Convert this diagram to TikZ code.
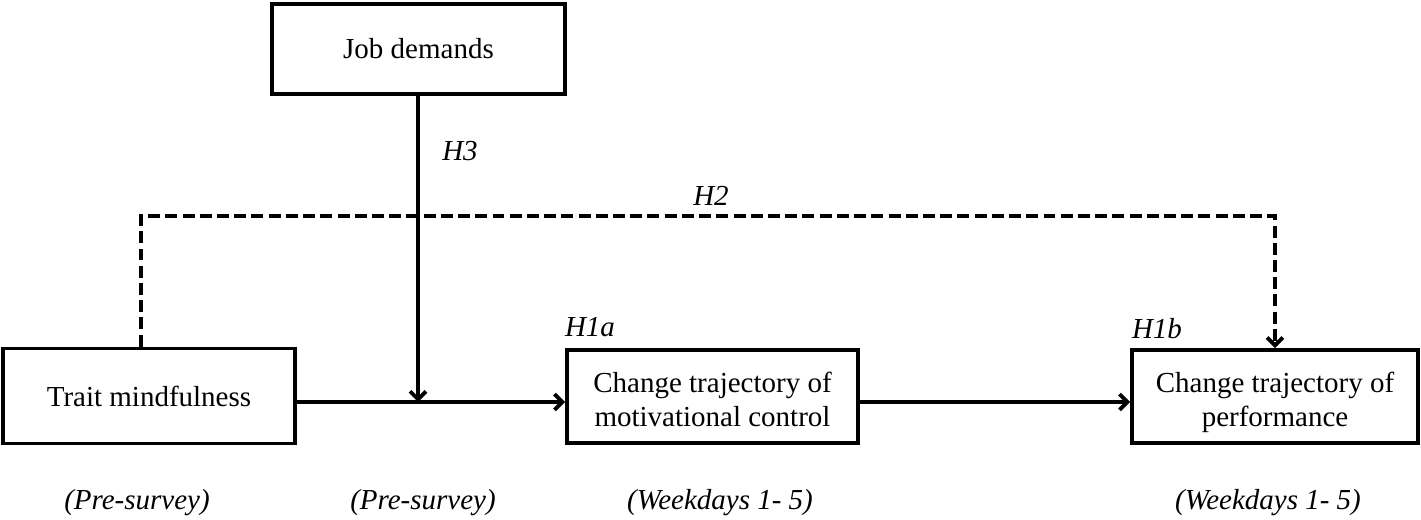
\documentclass[tikz,border=0pt]{standalone}
\usepackage{fontspec}
\setmainfont{Liberation Serif}
\usetikzlibrary{positioning, arrows.meta, calc}

\newcommand{\figsize}{\fontsize{16.5}{19.5}\selectfont}
\newcommand{\toprule}{\rule{0pt}{21pt}}

\tikzset{
    box/.style={draw, line width=2.2pt, align=center, inner sep=2pt},
    conn/.style={line width=2.2pt, -{Straight Barb[length=4.5pt, width=9pt, line width=2.2pt]}},
    dashconn/.style={conn, dash pattern=on 6.8pt off 3pt},
    hyp/.style={font=\figsize\itshape},
    phase/.style={font=\figsize\itshape}
}

\begin{document}
\begin{tikzpicture}[x=0.02cm, y=-0.02cm, font=\figsize]
\useasboundingbox (0,0) rectangle (1421,520);

% Kästen
\node[box, minimum width=5.86cm, minimum height=1.8cm] (jobdem) at (418.5,49) {Job demands};
\node[box, minimum width=5.84cm, minimum height=1.9cm] (trait) at (149,396) {Trait mindfulness};
\node[box, minimum width=5.82cm, minimum height=1.86cm] (motiv) at (712.5,396.5) {\toprule Change trajectory of\\\strut motivational control};
\node[box, minimum width=5.72cm, minimum height=1.86cm] (perf) at (1275,396.5) {\toprule Change trajectory of\\\strut performance};

% Hilfspunkte
\coordinate (j) at (418,402);
\coordinate (dl) at (141,216);
\coordinate (dr) at (1275,216);

% Verbindungen
\draw[dashconn] (dl |- trait.north) -- (dl) -- (dr) -- (dr |- perf.north);
\draw[conn] (trait.east |- j) -- (motiv.west |- j);
\draw[conn] (jobdem.south -| j) -- (j);
\draw[conn] (motiv.east |- j) -- (perf.west |- j);

% Hypothesen
\node[hyp] (h3) at (460,151) {H3};
\node[hyp] (h2) at (711,196) {H2};
\node[hyp] (h1a) at (590,327) {H1a};
\node[hyp] (h1b) at (1157,329) {H1b};

% Messzeitpunkte
\node[phase] (t1) at (137,503) {(Pre-survey)};
\node[phase] (t2) at (423,503) {(Pre-survey)};
\node[phase] (t3) at (720,503) {(Weekdays 1- 5)};
\node[phase] (t4) at (1268,503) {(Weekdays 1- 5)};

\end{tikzpicture}
\end{document}
